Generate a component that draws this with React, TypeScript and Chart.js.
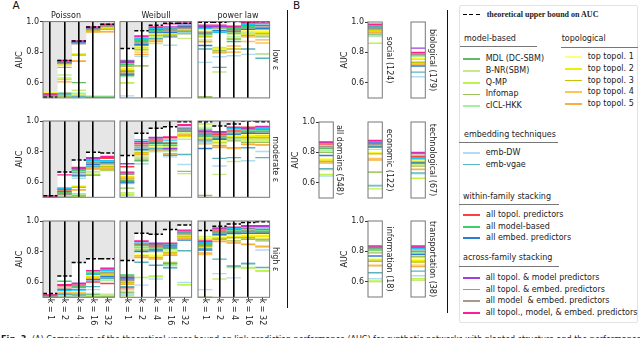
import React, { useEffect, useRef } from 'react';
import { Chart, registerables } from 'chart.js';

Chart.register(...registerables);
Chart.defaults.font.family = "'DejaVu Sans', 'Noto Sans', sans-serif";
Chart.defaults.font.size = 8;
Chart.defaults.color = '#222';

// ---------------- data ----------------
const PREDICTORS = [
  'MDL (DC-SBM)', 'B-NR(SBM)', 'Q-MP', 'Infomap', 'cICL-HKK',
  'top topol. 1', 'top topol. 2', 'top topol. 3', 'top topol. 4', 'top topol. 5',
  'emb-DW', 'emb-vgae',
  'all topol. predictors', 'all model-based', 'all embed. predictors',
  'all topol. & model predictors', 'all topol. & embed. predictors',
  'all model  & embed. predictors', 'all topol., model, & embed. predictors',
];
const COLORS = [
  '#63b86a', '#c9ea8a', '#bff24a', '#9cc05a', '#a6f0a6',
  '#ffff7a', '#eeee00', '#c4c400', '#ffc35a', '#f5b040',
  '#b0dcf2', '#5ab4bd',
  '#ff4040', '#3ccf6a', '#2a7fd4',
  '#a040e0', '#18c8f8', '#a8988a', '#ff2090',
];
const K_VALUES = [1, 2, 4, 16, 32];
const Y_TICKS = [0.6, 0.8, 1.0];
const NETWORK_MODELS = ['Poisson', 'Weibull', 'power law'];
const NOISE_LEVELS = ['low ε', 'moderate ε', 'high ε'];
const DOMAINS = ['social (124)', 'biological (179)', 'all domains (548)', 'economic (122)', 'technological (67)', 'information (18)', 'transportation (38)'];

// theoretical upper bounds per k
const BOUND_POISSON_LOW = [0.504, 0.745, 0.873, 0.965, 0.983];
const BOUND_WEIBULL_LOW = [0.823, 0.94, 0.976, 0.99, 0.99];
const BOUND_POWER_LOW = [0.995, 0.995, 1.0, 1.0, 1.0];
const BOUND_POISSON_MOD = [0.51, 0.665, 0.745, 0.795, 0.79];
const BOUND_WEIBULL_MOD = [0.774, 0.92, 0.952, 0.963, 0.995];
const BOUND_POWER_MOD = [0.995, 0.967, 0.98, 1.0, 0.995];
const BOUND_POISSON_HIGH = [0.525, 0.64, 0.728, 0.752, 0.752];
const BOUND_WEIBULL_HIGH = [0.741, 0.92, 0.913, 0.945, 0.974];
const BOUND_POWER_HIGH = [0.937, 0.966, 0.98, 0.99, 0.995];

// AUC per predictor (rows, PREDICTORS order) and k (columns)
const POISSON_LOW = [
  [.505, .53, .60, .51, .51], [.50, .65, .55, .50, .50], [.502, .63, .52, .50, .50], [.50, .51, .51, .50, .50], [.508, .52, .53, .505, .505],
  [.535, .72, .79, .945, .96], [.53, .715, .786, .942, .955], [.52, .70, .78, .94, .95], [.518, .62, .742, .935, .935], [.515, .605, .74, .932, .933],
  [.50, .50, .50, .50, .50], [.51, .52, .51, .50, .50],
  [.522, .73, .865, .955, .972], [.512, .728, .86, .958, .975], [.515, .736, .858, .95, .968],
  [.52, .738, .868, .96, .978], [.518, .74, .87, .962, .98], [.51, .725, .855, .948, .97], [.526, .745, .873, .965, .983],
];
const WEIBULL_LOW = [
  [.675, .87, .945, .945, .95], [.60, .71, .856, .915, .89], [.598, .82, .90, .925, .94], [.705, .71, .88, .92, .92], [.64, .86, .93, .95, .955],
  [.70, .84, .925, .935, .95], [.69, .83, .92, .92, .945], [.68, .815, .91, .91, .94], [.665, .80, .873, .90, .935], [.655, .785, .87, .905, .93],
  [.513, .773, .50, .845, .928], [.66, .845, .89, .90, .935],
  [.73, .885, .95, .955, .97], [.72, .878, .94, .95, .96], [.65, .85, .93, .93, .965],
  [.735, .90, .96, .965, .985], [.745, .89, .955, .96, .975], [.71, .86, .935, .94, .955], [.74, .906, .965, .985, .99],
];
const POWER_LOW = [
  [.92, .955, .87, .93, .95], [.88, .67, .93, .93, .785], [.905, .83, .925, .92, .91], [.508, .81, .92, .95, .90], [.91, .95, .90, .955, .945],
  [.945, .955, .91, .94, .94], [.93, .82, .89, .92, .93], [.90, .80, .82, .91, .92], [.867, .80, .84, .87, .86], [.87, .795, .80, .90, .88],
  [.733, .77, .776, .785, .79], [.82, .70, .885, .82, .76],
  [.96, .965, .95, .975, .975], [.92, .96, .955, .97, .96], [.843, .94, .935, .95, .955],
  [.97, .97, .97, .985, .99], [.955, .93, .945, .98, .985], [.93, .96, .94, .96, .965], [.977, .977, .965, .995, .998],
];
const POISSON_MOD = [
  [.505, .52, .52, .645, .70], [.50, .51, .51, .66, .68], [.50, .50, .505, .65, .675], [.50, .505, .51, .645, .68], [.505, .515, .52, .67, .715],
  [.505, .545, .575, .695, .71], [.505, .54, .571, .69, .705], [.50, .535, .565, .685, .70], [.50, .53, .55, .69, .69], [.50, .528, .548, .688, .685],
  [.50, .51, .625, .71, .735], [.505, .525, .64, .70, .73],
  [.505, .54, .69, .75, .755], [.505, .528, .675, .73, .73], [.51, .56, .645, .715, .725],
  [.505, .55, .685, .755, .762], [.508, .555, .66, .74, .74], [.505, .52, .665, .725, .72], [.508, .647, .695, .76, .767],
];
const WEIBULL_MOD = [
  [.61, .74, .85, .85, .93], [.53, .77, .80, .80, .88], [.52, .76, .83, .83, .655], [.56, .75, .84, .81, .67], [.59, .72, .845, .845, .925],
  [.64, .80, .83, .825, .92], [.635, .795, .82, .82, .90], [.625, .79, .815, .815, .91], [.63, .785, .81, .78, .915], [.62, .78, .808, .785, .905],
  [.51, .72, .80, .765, .715], [.595, .81, .82, .775, .78],
  [.70, .85, .87, .89, .95], [.655, .84, .86, .84, .945], [.60, .815, .855, .855, .935],
  [.72, .865, .892, .82, .97], [.66, .876, .88, .875, .955], [.65, .83, .865, .86, .94], [.665, .855, .89, .895, .975],
];
const POWER_MOD = [
  [.92, .885, .91, .925, .905], [.96, .65, .735, .88, .88], [.98, .875, .885, .87, .87], [.512, .86, .87, .86, .86], [.95, .865, .905, .90, .895],
  [.895, .87, .90, .91, .91], [.89, .855, .895, .90, .90], [.88, .84, .89, .89, .89], [.87, .826, .82, .85, .84], [.85, .83, .825, .845, .845],
  [.86, .705, .88, .74, .80], [.87, .755, .76, .825, .76],
  [.91, .91, .94, .96, .945], [.90, .90, .93, .935, .94], [.82, .88, .915, .92, .92],
  [.94, .925, .955, .95, .965], [.915, .92, .95, .945, .95], [.905, .895, .92, .93, .93], [.93, .93, .96, .955, .96],
];
const POISSON_HIGH = [
  [.505, .51, .51, .52, .506], [.50, .505, .505, .51, .52], [.50, .50, .52, .505, .51], [.50, .50, .50, .50, .50], [.505, .515, .515, .525, .61],
  [.505, .535, .535, .64, .655], [.505, .53, .53, .635, .65], [.50, .525, .525, .625, .645], [.50, .53, .528, .63, .655], [.50, .52, .52, .62, .64],
  [.50, .51, .51, .55, .62], [.505, .52, .515, .57, .625],
  [.508, .575, .58, .60, .59], [.505, .605, .57, .66, .665], [.505, .55, .552, .615, .635],
  [.514, .58, .592, .675, .69], [.508, .545, .548, .65, .675], [.505, .56, .565, .655, .66], [.516, .583, .588, .673, .685],
];
const WEIBULL_HIGH = [
  [.64, .83, .82, .82, .905], [.54, .82, .635, .73, .58], [.51, .63, .64, .71, .585], [.53, .81, .80, .725, .90], [.55, .835, .825, .81, .91],
  [.605, .78, .78, .80, .91], [.60, .775, .77, .795, .90], [.595, .77, .76, .79, .895], [.59, .765, .755, .78, .89], [.585, .76, .75, .775, .885],
  [.52, .58, .62, .69, .598], [.57, .73, .71, .695, .805],
  [.562, .845, .835, .84, .925], [.647, .85, .845, .72, .92], [.615, .80, .81, .83, .875],
  [.625, .865, .855, .85, .935], [.62, .855, .84, .845, .93], [.61, .84, .83, .85, .915], [.63, .87, .85, .855, .94],
];
const POWER_HIGH = [
  [.845, .925, .925, .93, .925], [.83, .62, .70, .69, .67], [.895, .90, .695, .695, .675], [.50, .885, .87, .88, .87], [.88, .915, .915, .91, .905],
  [.89, .90, .90, .91, .91], [.88, .89, .895, .90, .90], [.835, .88, .89, .89, .88], [.78, .87, .86, .85, .83], [.79, .865, .855, .845, .835],
  [.55, .655, .627, .725, .81], [.82, .75, .705, .72, .695],
  [.855, .94, .945, .95, .945], [.85, .93, .94, .94, .94], [.81, .91, .92, .92, .92],
  [.865, .95, .955, .965, .965], [.86, .945, .95, .955, .955], [.84, .92, .93, .935, .93], [.87, .955, .96, .97, .97],
];

// panel B: AUC per predictor for each domain
const SOCIAL = [.92, .905, .86, .95, .955, .95, .945, .94, .935, .93, .91, .96, .97, .965, .955, .98, .975, .96, .985];
const BIOLOGICAL = [.785, .73, .725, .72, .775, .76, .755, .735, .72, .715, .64, .67, .798, .79, .71, .828, .795, .785, .80];
const ALL_DOMAINS = [.825, .81, .655, .80, .815, .76, .75, .74, .687, .73, .645, .693, .855, .835, .78, .865, .86, .84, .868];
const ECONOMIC = [.84, .67, .56, .67, .82, .80, .795, .79, .76, .75, .585, .58, .86, .855, .835, .865, .87, .85, .878];
const TECHNOLOGICAL = [.75, .72, .63, .71, .755, .745, .74, .735, .687, .69, .66, .665, .775, .765, .73, .80, .76, .79, .795];
const INFORMATION = [.805, .60, .605, .79, .81, .75, .745, .735, .71, .705, .62, .66, .825, .82, .77, .828, .83, .815, .836];
const TRANSPORTATION = [.79, .61, .62, .765, .795, .75, .74, .73, .71, .70, .64, .67, .825, .80, .78, .836, .82, .81, .83];

// ---------------- layout ----------------
interface PanelSpec {
  values: number[][];
  bounds?: number[];
  plotLeft: number; plotTop: number; plotW: number; plotH: number;
  yLabels: boolean;
  title?: string;
  rightTitle?: string;
  rightTitleX?: number;
  xLabels: boolean;
}

const A_COL_LEFT = [43.3, 120.4, 198.4];
const A_ROW_TOP = [21.5, 121.2, 221];
const A_W = 71.6;
const A_H = 76.3;
const A_VALUES = [[POISSON_LOW, WEIBULL_LOW, POWER_LOW], [POISSON_MOD, WEIBULL_MOD, POWER_MOD], [POISSON_HIGH, WEIBULL_HIGH, POWER_HIGH]];
const A_BOUNDS = [[BOUND_POISSON_LOW, BOUND_WEIBULL_LOW, BOUND_POWER_LOW], [BOUND_POISSON_MOD, BOUND_WEIBULL_MOD, BOUND_POWER_MOD], [BOUND_POISSON_HIGH, BOUND_WEIBULL_HIGH, BOUND_POWER_HIGH]];

const PANELS: PanelSpec[] = [];
for (let r = 0; r < 3; r++) {
  for (let c = 0; c < 3; c++) {
    PANELS.push({
      values: A_VALUES[r][c],
      bounds: A_BOUNDS[r][c],
      plotLeft: A_COL_LEFT[c], plotTop: A_ROW_TOP[r], plotW: A_W, plotH: A_H,
      yLabels: c === 0,
      title: r === 0 ? NETWORK_MODELS[c] : undefined,
      rightTitle: c === 2 ? NOISE_LEVELS[r] : undefined,
      rightTitleX: 276,
      xLabels: r === 2,
    });
  }
}
const B_SPECS: [number[], number, number, boolean, number][] = [
  [SOCIAL, 368.3, 21.5, true, 389],
  [BIOLOGICAL, 411, 21.5, false, 432],
  [ALL_DOMAINS, 319, 121.5, true, 339.5],
  [ECONOMIC, 368.3, 121.5, false, 389],
  [TECHNOLOGICAL, 411, 121.5, false, 432],
  [INFORMATION, 368.3, 221, true, 389],
  [TRANSPORTATION, 411, 221, false, 432],
];
B_SPECS.forEach(([vals, left, top, yl, tx], i) => {
  PANELS.push({
    values: vals.map((v) => [v]),
    plotLeft: left, plotTop: top, plotW: 14.3, plotH: 76,
    yLabels: yl,
    rightTitle: DOMAINS[i],
    rightTitleX: tx,
    xLabels: false,
  });
});

function segments(vals: number[]) {
  const pts: { x: number; y: number | null }[] = [];
  vals.forEach((v, i) => {
    if (i > 0) pts.push({ x: i, y: null });
    pts.push({ x: i, y: v }, { x: i + 1, y: v });
  });
  return pts;
}

const framePlugin = {
  id: 'frame',
  afterDraw(chart: any) {
    const { ctx, chartArea: a } = chart;
    ctx.save();
    ctx.strokeStyle = '#777';
    ctx.lineWidth = 1;
    ctx.strokeRect(a.left, a.top, a.right - a.left, a.bottom - a.top);
    ctx.restore();
  },
};

function dims(spec: PanelSpec) {
  const L = spec.yLabels ? 28 : 2;
  const T = spec.title ? 10.6 : 6;
  const Bmin = spec.xLabels ? 32 : 7;
  const canvasLeft = spec.plotLeft - L;
  const canvasTop = spec.plotTop - T;
  const rightEdge = spec.rightTitle ? (spec.rightTitleX as number) + 4.8 : spec.plotLeft + spec.plotW + 2;
  const W = Math.round(rightEdge - canvasLeft);
  const H = Math.round(T + spec.plotH + Bmin);
  return { L, T, canvasLeft, canvasTop, W, H, R: W - L - spec.plotW, B: H - T - spec.plotH };
}

function noPad(s: any) {
  s.paddingLeft = 0; s.paddingRight = 0; s.paddingTop = 0; s.paddingBottom = 0;
}

function buildConfig(spec: PanelSpec) {
  const d = dims(spec);
  const n = spec.values[0].length;
  const datasets: any[] = [];
  if (spec.bounds) {
    datasets.push({
      type: 'line', label: 'theoretical upper bound on AUC', data: segments(spec.bounds),
      borderColor: '#000', borderWidth: 1.5, borderDash: [4, 2], pointRadius: 0,
      xAxisID: 'x', yAxisID: 'y', order: 0,
    });
    datasets.push({
      type: 'bar', label: 'gap', data: spec.bounds.map((b, i) => ({ x: i + 0.5, y: [b, 1.0] })),
      backgroundColor: '#e6e6e6', borderWidth: 0, barPercentage: 1, categoryPercentage: 1,
      xAxisID: 'x', yAxisID: 'y', order: 100,
    });
  }
  PREDICTORS.forEach((name, j) => {
    datasets.push({
      type: 'line', label: name, data: segments(spec.values[j]),
      borderColor: COLORS[j], borderWidth: 1.4, pointRadius: 0,
      xAxisID: 'x', yAxisID: 'y', order: 1 + (PREDICTORS.length - 1 - j),
    });
  });
  const kLabels = K_VALUES.map((k) => {
    const s = 'k = ' + k;
    return k < 10 ? s + '  ' : s;
  });
  return {
    type: 'line',
    data: { datasets },
    plugins: [framePlugin],
    options: {
      responsive: false,
      animation: false,
      events: [],
      devicePixelRatio: 1,
      layout: { padding: { top: spec.title ? 0 : d.T, left: 0, right: 0, bottom: 0 } },
      plugins: {
        legend: { display: false },
        tooltip: { enabled: false },
        title: {
          display: !!spec.title, text: spec.title || '',
          font: { size: 8, weight: 'normal' }, color: '#222',
          padding: { top: 0, bottom: 1 },
        },
      },
      scales: {
        x: {
          type: 'linear', position: 'bottom', min: 0, max: n, offset: false,
          afterBuildTicks: (s: any) => { s.ticks = Array.from({ length: n + 1 }, (_, i) => ({ value: i })); },
          ticks: { display: false },
          grid: {
            z: 1, drawTicks: false, lineWidth: 1.6,
            color: (c: any) => (c.tick && (c.tick.value === 0 || c.tick.value === n) ? 'rgba(0,0,0,0)' : '#000'),
          },
          border: { display: false },
          afterFit: (s: any) => { s.height = 0; noPad(s); },
        },
        xk: {
          type: 'linear', position: 'bottom', min: 0, max: n, offset: false,
          afterBuildTicks: (s: any) => { s.ticks = K_VALUES.slice(0, n).map((_, i) => ({ value: i + 0.5 })); },
          ticks: {
            display: spec.xLabels, autoSkip: false, minRotation: -90, maxRotation: -90, padding: 26,
            callback: (_v: any, i: number) => kLabels[i], color: '#222', font: { size: 8 },
          },
          grid: { display: spec.xLabels, drawOnChartArea: false, drawTicks: true, tickLength: 2, color: '#333' },
          border: { display: false },
          afterFit: (s: any) => { s.height = d.B; noPad(s); },
        },
        y: {
          type: 'linear', position: 'left', min: 0.5, max: 1.0,
          afterBuildTicks: (s: any) => { s.ticks = Y_TICKS.map((v) => ({ value: v })); },
          ticks: { display: spec.yLabels, padding: 1, color: '#222', font: { size: 8 }, callback: (v: any) => Number(v).toFixed(1) },
          grid: { display: spec.yLabels, drawOnChartArea: false, drawTicks: true, tickLength: 3, color: '#333' },
          border: { display: false },
          title: { display: spec.yLabels, text: 'AUC', padding: 0, color: '#222', font: { size: 8 } },
          afterFit: (s: any) => { s.width = d.L; noPad(s); },
        },
        yr: {
          type: 'linear', position: 'right', min: 0.5, max: 1.0,
          ticks: { display: false },
          grid: { display: false },
          border: { display: false },
          title: { display: !!spec.rightTitle, text: spec.rightTitle || '', padding: 0, color: '#222', font: { size: 8 } },
          afterFit: (s: any) => { s.width = d.R; noPad(s); },
        },
      },
    },
  };
}

function Panel({ spec }: { spec: PanelSpec }) {
  const ref = useRef<HTMLCanvasElement>(null);
  const d = dims(spec);
  useEffect(() => {
    const chart = new Chart(ref.current as HTMLCanvasElement, buildConfig(spec) as any);
    return () => chart.destroy();
  }, []);
  return (
    <canvas
      ref={ref}
      width={d.W}
      height={d.H}
      style={{ position: 'absolute', left: d.canvasLeft, top: d.canvasTop, width: d.W, height: d.H }}
    />
  );
}

const FONT = "'DejaVu Sans', 'Noto Sans', sans-serif";

function Txt({ x, cy, children, style }: { x: number; cy: number; children: any; style?: any }) {
  return (
    <div style={{ position: 'absolute', left: x, top: cy - 5, fontSize: 8, lineHeight: '10px', whiteSpace: 'pre', fontFamily: FONT, color: '#222', ...style }}>
      {children}
    </div>
  );
}

function Swatch({ x, cy, color, w = 17 }: { x: number; cy: number; color: string; w?: number }) {
  return <div style={{ position: 'absolute', left: x, top: cy - 0.9, width: w, height: 1.8, background: color }} />;
}

function Rule({ x1, x2, y }: { x1: number; x2: number; y: number }) {
  return <div style={{ position: 'absolute', left: x1, top: y, width: x2 - x1, height: 1, background: '#777' }} />;
}

function Legend() {
  const items: any[] = [];
  const model = [59.3, 71, 82.7, 94.4, 106.1];
  const topo = [57.3, 68.9, 80.5, 92.1, 103.7];
  const emb = [153, 164.5];
  const within = [215.3, 226.8, 238.3];
  const across = [278, 289.6, 301.1, 312.7];
  model.forEach((cy, i) => {
    items.push(<Swatch key={'ms' + i} x={463} cy={cy} color={COLORS[i]} />);
    items.push(<Txt key={'mt' + i} x={485.7} cy={cy}>{PREDICTORS[i]}</Txt>);
  });
  topo.forEach((cy, i) => {
    items.push(<Swatch key={'ts' + i} x={565} cy={cy} color={COLORS[5 + i]} />);
    items.push(<Txt key={'tt' + i} x={587.7} cy={cy}>{PREDICTORS[5 + i]}</Txt>);
  });
  emb.forEach((cy, i) => {
    items.push(<Swatch key={'es' + i} x={463} cy={cy} color={COLORS[10 + i]} />);
    items.push(<Txt key={'et' + i} x={485.7} cy={cy}>{PREDICTORS[10 + i]}</Txt>);
  });
  within.forEach((cy, i) => {
    items.push(<Swatch key={'ws' + i} x={463} cy={cy} color={COLORS[12 + i]} />);
    items.push(<Txt key={'wt' + i} x={486} cy={cy}>{PREDICTORS[12 + i]}</Txt>);
  });
  across.forEach((cy, i) => {
    items.push(<Swatch key={'as' + i} x={463} cy={cy} color={COLORS[15 + i]} />);
    items.push(<Txt key={'at' + i} x={485.7} cy={cy}>{PREDICTORS[15 + i]}</Txt>);
  });
  return (
    <>
      <div style={{ position: 'absolute', left: 459, top: 4.7, width: 179, height: 318, border: '1px solid #e2e2e2', borderRadius: 2, boxSizing: 'border-box' }} />
      {[0, 1, 2].map((i) => (
        <div key={'d' + i} style={{ position: 'absolute', left: 463 + i * 6.3, top: 13.9, width: 4, height: 1.6, background: '#000' }} />
      ))}
      <Txt x={486.7} cy={14.7} style={{ fontFamily: "'Liberation Serif', 'DejaVu Serif', serif", fontWeight: 'bold' }}>theoretical upper bound on AUC</Txt>
      <Txt x={464} cy={38.7}>model-based</Txt>
      <Rule x1={460} x2={537} y={46} />
      <Txt x={561.7} cy={39}>topological</Txt>
      <Rule x1={561} x2={638} y={47.3} />
      <Txt x={464} cy={134.7}>embedding techniques</Txt>
      <Rule x1={459} x2={558} y={141.7} />
      <Txt x={463} cy={196.7}>within-family stacking</Txt>
      <Rule x1={459} x2={559} y={204.3} />
      <Txt x={463} cy={257.7}>across-family stacking</Txt>
      <Rule x1={459} x2={559} y={265.7} />
      {items}
    </>
  );
}

export default function App() {
  return (
    <div style={{ position: 'absolute', left: 0, top: 0, width: 640, height: 338, overflow: 'hidden', background: '#fff', fontFamily: FONT }}>
      <div style={{ position: 'absolute', left: 12.5, top: 0, fontSize: 10.5, lineHeight: '11px', fontFamily: FONT, color: '#111' }}>A</div>
      <div style={{ position: 'absolute', left: 293, top: 0, fontSize: 10.5, lineHeight: '11px', fontFamily: FONT, color: '#111' }}>B</div>
      {PANELS.map((p, i) => <Panel key={i} spec={p} />)}
      <div style={{ position: 'absolute', left: 286.5, top: 10, width: 1.2, height: 298, background: '#111' }} />
      <div style={{ position: 'absolute', left: 446.5, top: 10, width: 1.2, height: 303, background: '#111' }} />
      <Legend />
      <div style={{ position: 'absolute', left: 1, top: 334.5, fontSize: 8, lineHeight: '10px', whiteSpace: 'nowrap', fontFamily: FONT, color: '#222' }}>
        <b>Fig. 3.</b> (A) Comparison of the theoretical upper bound on link prediction performance (AUC) for synthetic networks with planted structure and the performance of individual predictors
      </div>
    </div>
  );
}
